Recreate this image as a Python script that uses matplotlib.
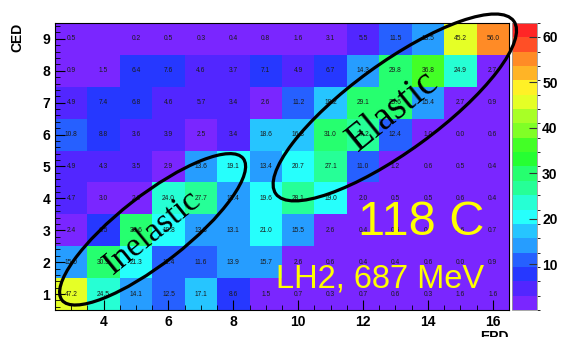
import colorsys
import numpy as np
import matplotlib
matplotlib.use("Agg")
import matplotlib.pyplot as plt
from matplotlib.colors import ListedColormap, BoundaryNorm
from matplotlib.patches import Ellipse
from matplotlib.ticker import MultipleLocator
from matplotlib.transforms import IdentityTransform, ScaledTranslation

plt.rcParams['font.family'] = ['Liberation Sans', 'DejaVu Sans']

# EPD (x) and CED (y) channel numbers
epd = np.arange(3, 17)
ced = np.arange(1, 10)

# counts per (CED, EPD) cell, row 0 is CED = 1
ced1 = [47.2, 24.5, 14.1, 12.5, 17.1, 8.6, 1.5, 0.7, 0.3, 0.7, 0.6, 0.3, 1.6, 1.6]
ced2 = [15.0, 30.9, 21.3, 11.4, 11.6, 13.9, 15.7, 2.6, 0.6, 0.4, 0.4, 0.6, 0.04, 0.9]
ced3 = [2.4, 6.5, 30.6, 19.8, 13.3, 13.1, 21.0, 15.5, 2.6, 0.4, 0.5, 0.3, 0.6, 0.7]
ced4 = [4.7, 3.0, 2.6, 24.0, 27.7, 13.4, 19.6, 28.1, 19.0, 2.0, 0.5, 0.5, 0.6, 0.4]
ced5 = [4.9, 4.3, 3.5, 2.9, 13.6, 19.1, 13.4, 20.7, 27.1, 11.0, 1.2, 0.6, 0.5, 0.4]
ced6 = [10.8, 8.8, 3.6, 3.9, 2.5, 3.4, 18.6, 16.3, 31.0, 27.2, 12.4, 1.0, 0.04, 0.6]
ced7 = [4.9, 7.4, 6.8, 4.6, 5.7, 3.4, 2.6, 11.2, 18.2, 29.1, 29.6, 15.4, 2.7, 0.9]
ced8 = [0.9, 1.5, 6.4, 7.6, 4.6, 3.7, 7.1, 4.9, 6.7, 14.3, 29.8, 36.8, 24.9, 2.7]
ced9 = [0.5, 0.0, 0.2, 0.5, 0.3, 0.4, 0.8, 1.6, 3.1, 5.5, 11.5, 13.5, 45.2, 56.0]
counts = np.array([ced1, ced2, ced3, ced4, ced5, ced6, ced7, ced8, ced9])

z_max = 63.0
n_levels = 20
cbar_ticks = [10, 20, 30, 40, 50, 60]


def pretty_palette(n_levels, n_colors=50, wash=0.15):
    # violet -> red rainbow, one colour per contour level
    cols = []
    for i in range(n_levels):
        k = int((i + 0.99) * n_colors / n_levels)
        hue = 280.0 - (k + 1) * 280.0 / n_colors
        r, g, b = colorsys.hls_to_rgb(hue / 360.0, 0.5, 1.0)
        cols.append(tuple(c * (1 - wash) + wash for c in (r, g, b)))
    return ListedColormap(cols)


cmap = pretty_palette(n_levels)
norm = BoundaryNorm(np.linspace(0, z_max, n_levels + 1), n_levels)

fig = plt.figure(figsize=(5.63, 3.37), dpi=100)
ax = fig.add_axes([0.0977, 0.080, 0.8063, 0.852])
cax = fig.add_axes([0.9100, 0.080, 0.0444, 0.852])

x_edges = np.append(epd - 0.5, epd[-1] + 0.5)
y_edges = np.append(ced - 0.5, ced[-1] + 0.5)
ax.set_facecolor(cmap(0))
mesh = ax.pcolormesh(x_edges, y_edges, counts, cmap=cmap, norm=norm)

# bin contents printed in every non-empty cell
for j, yv in enumerate(ced):
    for i, xv in enumerate(epd):
        v = counts[j, i]
        if v > 0:
            ax.text(xv, yv, f"{v:.1f}", ha='center', va='center',
                    fontsize=4.8, color='#1a1a1a')

ax.set_xlim(x_edges[0], x_edges[-1])
ax.set_ylim(y_edges[0], y_edges[-1])
ax.xaxis.set_major_locator(MultipleLocator(2))
ax.xaxis.set_minor_locator(MultipleLocator(0.5))
ax.yaxis.set_major_locator(MultipleLocator(1))
ax.yaxis.set_minor_locator(MultipleLocator(0.2))
ax.tick_params(which='both', direction='in', top=False, right=False)
ax.tick_params(which='major', length=7, width=0.8, labelsize=10)
ax.tick_params(which='minor', length=3.5, width=0.6)
for lab in ax.get_xticklabels() + ax.get_yticklabels():
    lab.set_fontweight('bold')
for s in ax.spines.values():
    s.set_linewidth(0.8)

ax.set_xlabel('EPD', loc='right', fontsize=10, fontweight='bold', labelpad=1)
ax.set_ylabel('CED', loc='top', fontsize=10, fontweight='bold')
ax.yaxis.set_label_coords(-0.068, 1.0)

cb = fig.colorbar(mesh, cax=cax, ticks=cbar_ticks, spacing='proportional')
cb.outline.set_linewidth(0.6)
cb.outline.set_edgecolor('#999999')
cax.tick_params(direction='in', length=6, width=0.8, labelsize=10,
                color='#333333')
for lab in cax.get_yticklabels():
    lab.set_fontweight('bold')

# circled regions with their names
def ring(cx, cy, half_len, half_wid, angle):
    tr = IdentityTransform() + ScaledTranslation(cx, cy, ax.transData)
    fig.add_artist(Ellipse((0, 0), 2 * half_len, 2 * half_wid, angle=angle,
                           transform=tr, fill=False, lw=2.3, ec='black',
                           zorder=5))


ring(5.51, 3.03, 115, 34, 38)
ring(12.98, 6.85, 147, 44, 36)

ax.text(5.51, 2.95, 'Inelastic', rotation=39, rotation_mode='anchor',
        ha='center', va='center', fontsize=24.5, family='Liberation Serif')
ax.text(12.92, 6.72, 'Elastic', rotation=39, rotation_mode='anchor',
        ha='center', va='center', fontsize=28, family='Liberation Serif')

ax.text(13.78, 3.25, '118 C', ha='center', va='center', fontsize=35,
        color='#ffff00')
ax.text(12.52, 1.47, 'LH2, 687 MeV', ha='center', va='center', fontsize=23.5,
        color='#ffff00')

fig.savefig('out.png', dpi=100)
